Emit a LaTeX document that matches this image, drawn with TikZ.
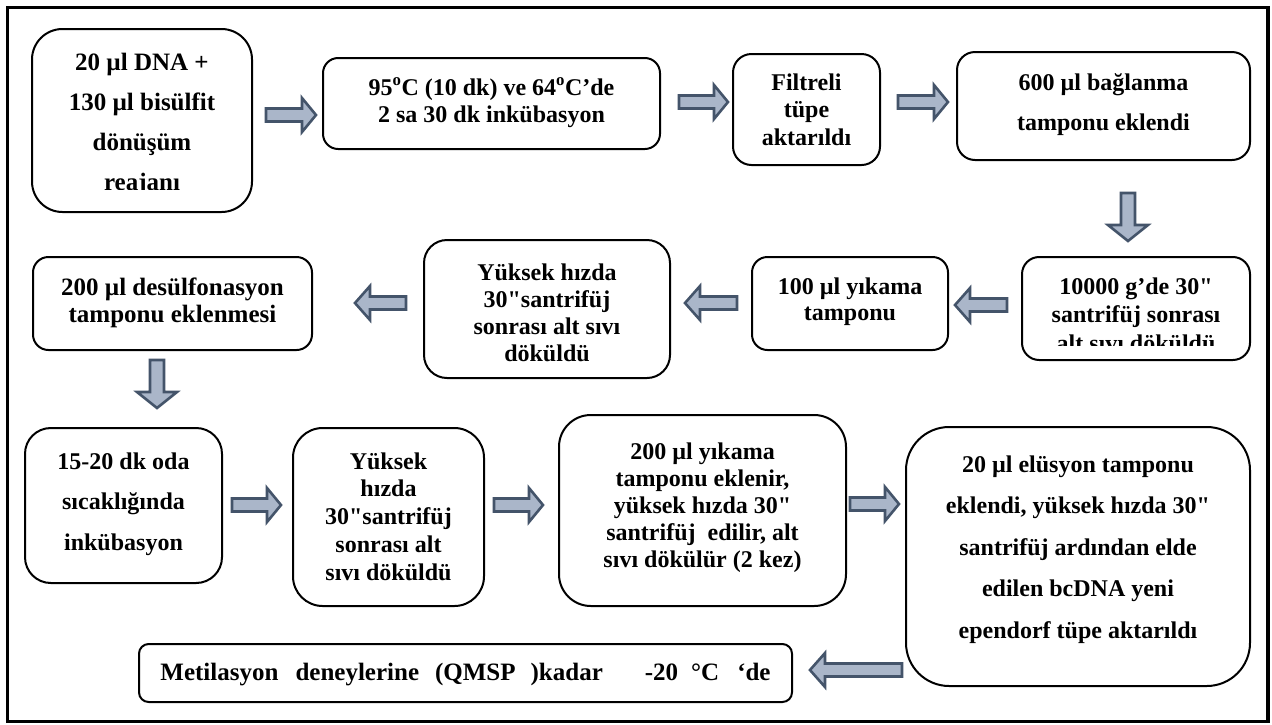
\documentclass[tikz,border=0pt]{standalone}
\usepackage{fontspec}
\setmainfont{Liberation Serif}
\font\dqfont="Liberation Serif/B" at 24pt
\newcommand\dq{{\dqfont\char34}}
\definecolor{arrfill}{RGB}{170,182,201}
\definecolor{arrline}{RGB}{68,84,106}
\def\fs{24}
\tikzset{
  box/.style={draw=black, line width=2pt, fill=white, inner sep=0pt},
  txt/.style={font=\fontsize{\fs}{28}\selectfont\bfseries, inner sep=0pt, anchor=base},
  blockarrow/.style={draw=arrline, fill=arrfill, line width=2.6pt, line join=miter},
}
% name, x1, y1, x2, y2, first baseline, spacing, lines, clip bottom
\newcommand\flowbox[9]{%
  \pgfmathsetmacro\rr{min(#4-#2,#5-#3)/6}%
  \node[box, rounded corners=\rr pt, minimum width={(#4-#2)*1pt}, minimum height={(#5-#3)*1pt}] (#1) at ({(#2+#4)/2},{(#3+#5)/2}) {};
  \begin{scope}
    \clip (#2,#3) rectangle (#4,#9);
    \foreach \t [count=\i] in {#8} {
      \node[txt] (#1-\i) at ({(#2+#4)/2},{#6+(\i-1)*#7}) {\t};
    }
  \end{scope}
}
% right arrow: x1 (tail), x2 (tip), y
\newcommand\rarr[3]{\draw[blockarrow] (#1,{#3-6.5}) -- ({#2-16},{#3-6.5}) -- ({#2-16},{#3-17}) -- ({#2-2},#3) -- ({#2-16},{#3+17}) -- ({#2-16},{#3+6.5}) -- (#1,{#3+6.5}) -- cycle;}
% left arrow: x1 (tip), x2 (tail), y
\newcommand\larr[3]{\draw[blockarrow] (#2,{#3-6.5}) -- ({#1+17},{#3-6.5}) -- ({#1+17},{#3-17}) -- ({#1+2},#3) -- ({#1+17},{#3+17}) -- ({#1+17},{#3+6.5}) -- (#2,{#3+6.5}) -- cycle;}
% down arrow: x, y1 (tail), y2 (tip)
\newcommand\darr[3]{\draw[blockarrow] ({#1-7},#2) -- ({#1-7},{#3-18}) -- ({#1-20},{#3-18}) -- (#1,{#3-2}) -- ({#1+20},{#3-18}) -- ({#1+7},{#3-18}) -- ({#1+7},#2) -- cycle;}
\begin{document}
\begin{tikzpicture}[x=1pt,y=-1pt]
\fill[white] (0,0) rectangle (1272,724);
\useasboundingbox (0,0) rectangle (1272,724);
\draw[line width=3.5pt] (7.5,7.5) rectangle (1268,721.5);

\def\fs{25}
\flowbox{b1}{32}{29}{252}{212}{70}{40}{{20 µl DNA +},{130 µl bisülfit},{dönüşüm},{reajanı}}{189.5}
\def\fs{24}
\flowbox{b2}{323}{58}{660}{149}{95}{27}{{95\textsuperscript{o}C (10 dk) ve 64\textsuperscript{o}C’de},{2 sa 30 dk inkübasyon}}{149}
\flowbox{b3}{733}{54}{880}{165}{90}{27.5}{{Filtreli},{tüpe},{aktarıldı}}{165}
\flowbox{b4}{957}{52}{1250}{160}{90}{40}{{600 µl bağlanma},{tamponu eklendi}}{160}
\flowbox{b5}{1022}{257}{1250}{360}{294}{28.5}{{10000 g’de 30\dq},{santrifüj sonrası},{alt sıvı döküldü}}{345}
\flowbox{b6}{752}{257}{948}{350}{294}{26}{{100 µl yıkama},{tamponu}}{350}
\flowbox{b7}{424}{240}{670}{378}{280}{27}{{Yüksek hızda},{30\dq santrifüj},{sonrası alt sıvı},{döküldü}}{363}
\def\fs{25}
\flowbox{b8}{33}{257}{312}{350}{295}{27}{{200 µl desülfonasyon},{tamponu eklenmesi}}{350}
\def\fs{24}
\flowbox{b9}{25}{428}{222}{583}{469}{40.5}{{15-20 dk oda},{sıcaklığında},{inkübasyon}}{583}
\flowbox{b10}{293}{428}{484}{606}{469}{27.75}{{Yüksek},{hızda},{30\dq santrifüj},{sonrası alt},{sıvı döküldü}}{606}
\flowbox{b11}{559}{415}{846}{606}{459}{27}{{200 µl yıkama},{tamponu eklenir,},{yüksek hızda 30\dq},{santrifüj\ \ edilir, alt},{sıvı dökülür (2 kez)}}{606}
\flowbox{b12}{906}{427}{1250}{686}{472}{41.5}{{20 µl elüsyon tamponu},{eklendi, yüksek hızda 30\dq},{santrifüj ardından elde},{edilen bcDNA yeni},{ependorf tüpe aktarıldı}}{686}
\def\fs{25}
\flowbox{b13}{139}{644}{792}{702}{680}{0}{{Metilasyon\hspace{17pt}deneylerine\hspace{16pt}(QMSP\hspace{15pt})kadar\hspace{42pt}-20\hspace{13pt}°C\hspace{18pt}‘de}}{702}
\def\fs{24}

\rarr{266}{318}{115}
\rarr{679}{730}{102}
\rarr{898}{950}{102}
\darr{1128}{193}{243}
\larr{953}{1007}{305}
\larr{683}{737}{303}
\larr{353}{406}{303}
\darr{157}{360}{410}
\rarr{232}{283}{505}
\rarr{494}{545}{505}
\rarr{850}{901}{504}
\larr{808}{902}{670}
\end{tikzpicture}
\end{document}
